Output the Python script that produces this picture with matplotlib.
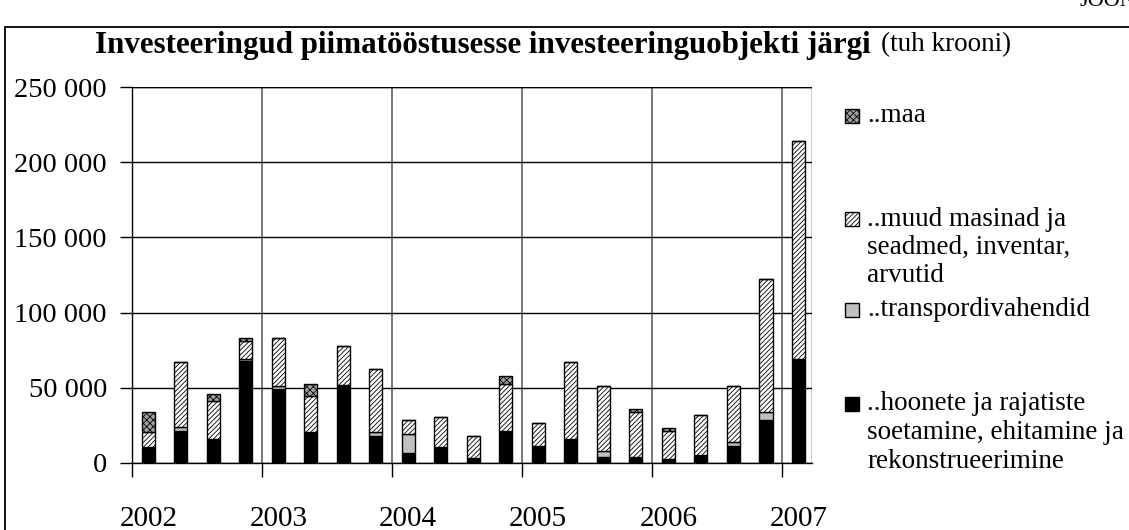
import numpy as np
import matplotlib
matplotlib.use("Agg")
import matplotlib.pyplot as plt
from matplotlib.patches import Rectangle
from matplotlib.ticker import FuncFormatter

# quarterly values, thousand kroons
quarters = ["2002 I", "2002 II", "2002 III", "2002 IV",
            "2003 I", "2003 II", "2003 III", "2003 IV",
            "2004 I", "2004 II", "2004 III", "2004 IV",
            "2005 I", "2005 II", "2005 III", "2005 IV",
            "2006 I", "2006 II", "2006 III", "2006 IV",
            "2007 I"]
hoonete = [10500, 21500, 16000, 67500, 49000, 20400, 52000, 18000, 6400, 10400, 3600,
           21600, 11600, 16000, 4200, 4200, 2400, 5300, 11600, 28700, 69000]
transport = [0, 2500, 0, 1800, 2000, 0, 0, 2900, 12700, 0, 0,
             0, 0, 0, 4000, 0, 0, 0, 2200, 5100, 0]
muud = [10400, 43000, 25300, 12000, 32000, 24300, 25600, 41800, 9600, 20000, 14400,
        31100, 14800, 50900, 42700, 30000, 19200, 26700, 37100, 88600, 145000]
maa = [13000, 0, 4500, 1800, 0, 7500, 0, 0, 0, 0, 0,
       4900, 0, 0, 0, 1800, 1500, 0, 0, 0, 0]
years = ["2002", "2003", "2004", "2005", "2006", "2007"]

series_labels = ["..hoonete ja rajatiste\nsoetamine, ehitamine ja\nrekonstrueerimine",
                 "..transpordivahendid",
                 "..muud masinad ja\nseadmed, inventar,\narvutid",
                 "..maa"]

plt.rcParams['font.family'] = ['Liberation Serif', 'DejaVu Serif']
plt.rcParams['hatch.linewidth'] = 0.6

fig = plt.figure(figsize=(11.29, 5.30), dpi=100)
ax = fig.add_axes([132/1129, 1-463/530, (812-132)/1129, (463-87)/530])

x = np.arange(len(quarters))
w = 0.41
styles = [dict(color="black"),
          dict(color="#c0c0c0"),
          dict(color="white", hatch="///////"),
          dict(color="#a0a0a0", hatch="xxxxx")]
bottom = np.zeros(len(x))
for vals, st in zip([hoonete, transport, muud, maa], styles):
    vals = np.array(vals, dtype=float)
    ax.bar(x, vals, w, bottom=bottom, facecolor=st["color"], hatch=st.get("hatch"),
           edgecolor="black", linewidth=1.0, zorder=3)
    bottom += vals

ax.set_xlim(-0.5, 20.42)
ax.set_ylim(0, 250000)
ax.set_yticks(np.arange(0, 250001, 50000))
ax.yaxis.set_major_formatter(FuncFormatter(lambda v, p: f"{int(v):,}".replace(",", " ")))
ax.grid(axis="y", color="black", linewidth=1.0, zorder=0)

# year boundaries, year label under the first quarter
bounds = np.arange(-0.5, len(x), 4)
ax.set_xticks(bounds)
ax.set_xticklabels([])
for b in bounds[1:]:
    ax.axvline(b, color="#606060", linewidth=1.2, zorder=0)
ax.set_xticks(x[::4], minor=True)
ax.set_xticklabels(years, minor=True, fontsize=21)
ax.tick_params(axis="x", which="minor", length=0, pad=31)
ax.tick_params(axis="x", which="major", length=10, width=1, direction="out")
ax.tick_params(axis="y", length=9, width=1, direction="out", labelsize=20.5, pad=9)

for s in ["top", "right"]:
    ax.spines[s].set_visible(False)
ax.spines["left"].set_linewidth(1.0)
ax.spines["bottom"].set_linewidth(1.0)
ax.axhline(250000, color="black", linewidth=1.0, zorder=0)
ax.axvline(20.42, color="black", linewidth=1.0, zorder=0)

# title: bold part, then the unit in normal weight right after it
t1 = fig.text(95/1129, 1-45/530, "Investeeringud piimatööstusesse investeeringuobjekti järgi",
              fontsize=22.3, fontweight="bold", va="center", ha="left")
fig.canvas.draw()
bb = t1.get_window_extent()
fig.text((bb.x1 + 10)/1129, 1-45/530, "(tuh krooni)", fontsize=19.5, va="center", ha="left")
fig.text(1080/1129, 1-1/530, "JOON", fontsize=16, va="center", ha="left")

# outer frame
fig.add_artist(Rectangle((5/1129, -0.02), 1.1, 1-27/530+0.02, transform=fig.transFigure,
                         fill=False, edgecolor="black", linewidth=1.3))

# legend drawn by hand (Excel style spacing)
leg_y = [404, 310, 219, 116]
for (lab, st, yy) in zip(series_labels, styles, leg_y):
    fig.add_artist(Rectangle((845/1129, 1-(yy+7)/530), 14/1129, 14/530,
                             transform=fig.transFigure, facecolor=st["color"],
                             hatch=st.get("hatch"), edgecolor="black", linewidth=1.0))
    for k, line in enumerate(lab.split("\n")):
        fig.text(867/1129, 1-(yy + 28.5*k)/530, line, fontsize=19.5, va="center", ha="left")

fig.savefig("out.png", dpi=100)
